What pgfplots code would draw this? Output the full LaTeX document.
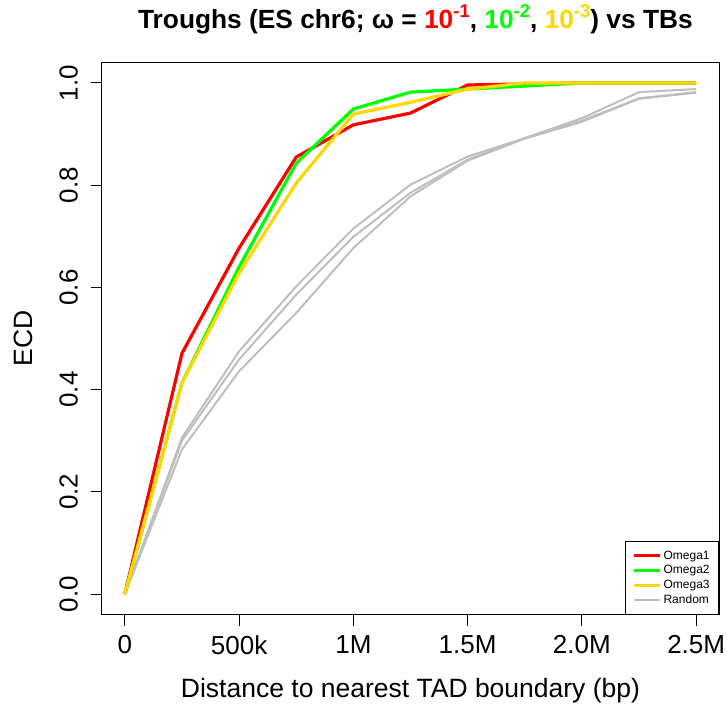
\documentclass[border=0pt]{standalone}
\usepackage{pgfplots}
\pgfplotsset{compat=1.18}
\usepackage{fontspec}
\setmainfont{Liberation Sans}

\definecolor{omA}{RGB}{255,0,0}
\definecolor{omB}{RGB}{0,255,0}
\definecolor{omC}{RGB}{255,215,0}
\definecolor{rnd}{RGB}{190,190,190}
\newcommand{\supx}[1]{\raisebox{0.42em}{\fontsize{18.5}{18.5}\selectfont #1}}

\begin{document}
\begin{tikzpicture}
\useasboundingbox (-102pt,-92pt) rectangle (625pt,614.5pt);
\begin{axis}[
    at={(0pt,0pt)}, anchor=south west,
    scale only axis,
    width=617pt, height=552pt,
    xmin=-100, xmax=2600,
    ymin=-0.04, ymax=1.04,
    axis line style={line width=1pt},
    tick style={line width=1pt, black},
    tick pos=left,
    tick align=outside,
    major tick length=11pt,
    xtick={0,500,1000,1500,2000,2500},
    xticklabels={0,500k,1M,1.5M,2.0M,2.5M},
    ytick={0,0.2,0.4,0.6,0.8,1.0},
    yticklabels={0.0,0.2,0.4,0.6,0.8,1.0},
    ticklabel style={font=\fontsize{26}{30}\selectfont},
    xticklabel style={anchor=north, inner sep=0pt},
    xticklabel shift=10pt,
    yticklabel style={rotate=90, anchor=south, inner sep=0pt},
    yticklabel shift=13pt,
    xlabel={Distance to nearest TAD boundary (bp)},
    ylabel={ECD},
    label style={font=\fontsize{26.5}{30}\selectfont},
    xlabel style={at={(axis description cs:0.5,-0.1504)}, anchor=base},
    ylabel style={at={(axis description cs:-0.1118,0.5)}, anchor=south, inner sep=0pt},
    title={Troughs (ES chr6; ω = \textcolor{omA}{10\supx{-1}}, \textcolor{omB}{10\supx{-2}}, \textcolor{omC}{10\supx{-3}}) vs TBs},
    title style={font=\fontsize{26.3}{28}\selectfont\bfseries, at={(axis description cs:0.508,1.051)}, anchor=base},
    legend style={at={(1,0)}, anchor=south east, draw=black, line width=0.8pt,
        font=\fontsize{12}{14}\selectfont, row sep=0.8pt,
        inner xsep=7pt, inner ysep=7pt},
    legend cell align=left,
    legend image code/.code={\draw[#1] (0pt,0pt) -- (26pt,0pt);},
]
% random sets
\addplot[rnd, line width=2pt, forget plot] coordinates {
    (0,0) (250,0.306) (500,0.475) (750,0.602) (1000,0.715) (1250,0.801)
    (1500,0.856) (1750,0.892) (2000,0.931) (2250,0.982) (2500,0.988)
};
\addplot[rnd, line width=2pt, forget plot] coordinates {
    (0,0) (250,0.300) (500,0.459) (750,0.586) (1000,0.699) (1250,0.785)
    (1500,0.850) (1750,0.892) (2000,0.926) (2250,0.970) (2500,0.982)
};
\addplot[rnd, line width=2pt, forget plot] coordinates {
    (0,0) (250,0.283) (500,0.436) (750,0.550) (1000,0.677) (1250,0.778)
    (1500,0.848) (1750,0.891) (2000,0.924) (2250,0.969) (2500,0.981)
};
% omega curves
\addplot[omA, line width=3.2pt] coordinates {
    (0,0) (250,0.471) (500,0.677) (750,0.855) (1000,0.918) (1250,0.941)
    (1500,0.996) (1750,0.998) (2000,1.0) (2250,1.0) (2500,1.0)
};
\addlegendentry{Omega1}
\addplot[omB, line width=3.2pt] coordinates {
    (0,0) (250,0.413) (500,0.640) (750,0.843) (1000,0.949) (1250,0.982)
    (1500,0.988) (1750,0.994) (2000,1.0) (2250,1.0) (2500,1.0)
};
\addlegendentry{Omega2}
\addplot[omC, line width=3.2pt] coordinates {
    (0,0) (250,0.413) (500,0.628) (750,0.804) (1000,0.939) (1250,0.962)
    (1500,0.988) (1750,1.0) (2000,1.0) (2250,1.0) (2500,1.0)
};
\addlegendentry{Omega3}
\addlegendimage{rnd, line width=2pt}
\addlegendentry{Random}
\end{axis}
\end{tikzpicture}
\end{document}
